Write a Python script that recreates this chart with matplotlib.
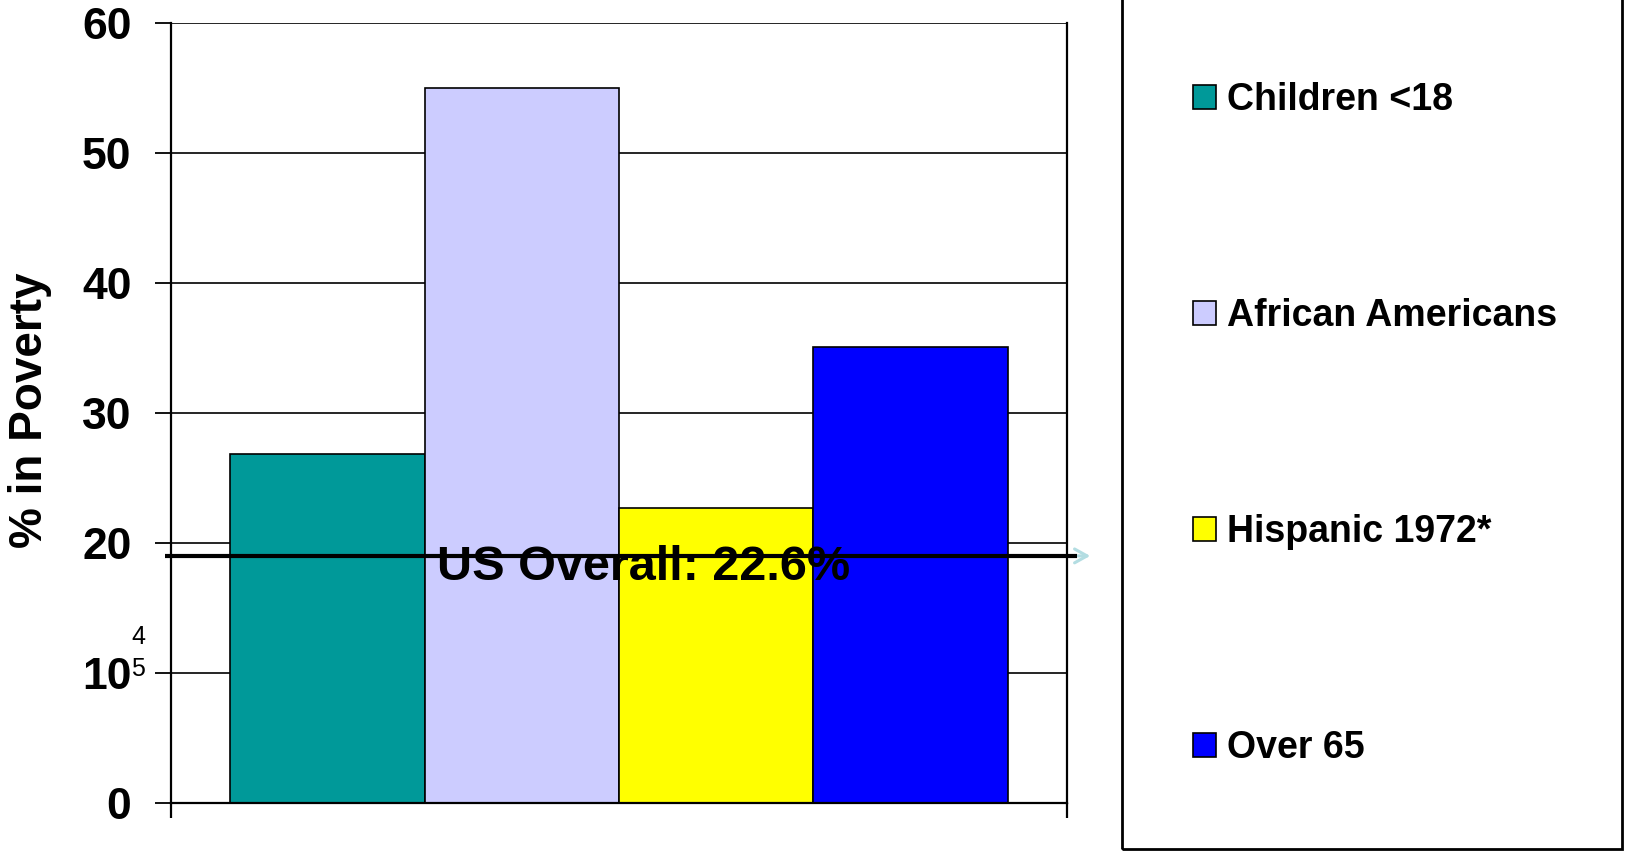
import matplotlib
matplotlib.use("Agg")
import matplotlib.pyplot as plt
import matplotlib.transforms as mtransforms
from matplotlib.patches import Rectangle
import numpy as np

plt.rcParams['font.family'] = ['Liberation Sans', 'DejaVu Sans']

# ---- data ----
groups = ['Children <18', 'African Americans', 'Hispanic 1972*', 'Over 65']
values = [26.8, 55.0, 22.7, 35.1]
colors = ['#009999', '#CCCCFF', '#FFFF00', '#0000FF']
yticks = [0, 10, 20, 30, 40, 50, 60]
us_line_value = 19.0
us_label = 'US Overall: 22.6%'
stray_marks = ['4', '5']

W, H, DPI = 1625, 851, 100
fig = plt.figure(figsize=(W / DPI, H / DPI), dpi=DPI)
ax = fig.add_axes([171 / W, 48 / H, 896 / W, (851 - 22.7 - 48) / H])

x = np.arange(len(groups))
bars = ax.bar(x, values, width=1.0, color=colors, edgecolor='black',
              linewidth=1.2, zorder=3)
for b, g in zip(bars, groups):
    b.set_label(g)

pad_x = 0.3036
ax.set_xlim(-0.5 - pad_x, len(groups) - 0.5 + pad_x)
ax.set_ylim(0, 60)
ax.set_yticks(yticks)
ax.set_yticklabels([str(t) for t in yticks], fontsize=32, fontweight='bold')
ax.tick_params(axis='y', direction='out', length=11.5, width=1.3, pad=17)
ax.set_xticks(list(ax.get_xlim()))
ax.set_xticklabels(['', ''])
ax.tick_params(axis='x', direction='out', length=11, width=1.6)
ax.grid(axis='y', color='black', linewidth=1.2, zorder=0)
ax.set_axisbelow(True)
for side in ['left', 'bottom', 'right']:
    ax.spines[side].set_linewidth(1.6)
    ax.spines[side].set_color('black')
ax.spines['top'].set_visible(False)
ax.spines['bottom'].set_zorder(4)

ax.set_ylabel('% in Poverty', fontsize=33, fontweight='bold')
ax.yaxis.label.set_verticalalignment('center')
ax.yaxis.label.set_rotation_mode('anchor')
ax.yaxis.set_label_coords(-0.157, 0.503)

# US overall reference line with light-blue arrowhead
trans = mtransforms.blended_transform_factory(ax.transAxes, ax.transData)
ax.annotate('', xy=(1.029, us_line_value), xytext=(0.99, us_line_value),
            xycoords=trans, textcoords=trans,
            arrowprops=dict(arrowstyle='->,head_length=0.9,head_width=0.5',
                            color='#b3dde2', lw=2.2),
            annotation_clip=False, zorder=5)
ax.plot([-0.0067, 1.0112], [us_line_value, us_line_value], color='black',
        linewidth=3, transform=trans, clip_on=False, zorder=6,
        solid_capstyle='butt')
ax.text(1.627, 17.13, us_label, fontsize=35, fontweight='bold',
        ha='center', va='baseline', zorder=7)

# stray small digits near the 10 tick
fig.text(138 / W, 1 - 637 / H, stray_marks[0], fontsize=18, ha='center', va='center')
fig.text(138 / W, 1 - 669 / H, stray_marks[1], fontsize=18, ha='center', va='center')

# legend box
fig.patches.append(Rectangle((1122 / W, 1 - 849 / H), (1622 - 1122) / W, 860 / H,
                             transform=fig.transFigure, fill=False,
                             edgecolor='black', linewidth=2))
leg = fig.legend(handles=list(bars), labels=groups, loc='upper left',
                 bbox_to_anchor=(1193 / W, 1 - 82 / H), frameon=False,
                 prop=dict(size=27, weight='bold'), labelspacing=4.8,
                 handlelength=0.6, handleheight=0.6, handletextpad=0.3,
                 borderaxespad=0, borderpad=0)

fig.savefig('out.png', dpi=DPI)
